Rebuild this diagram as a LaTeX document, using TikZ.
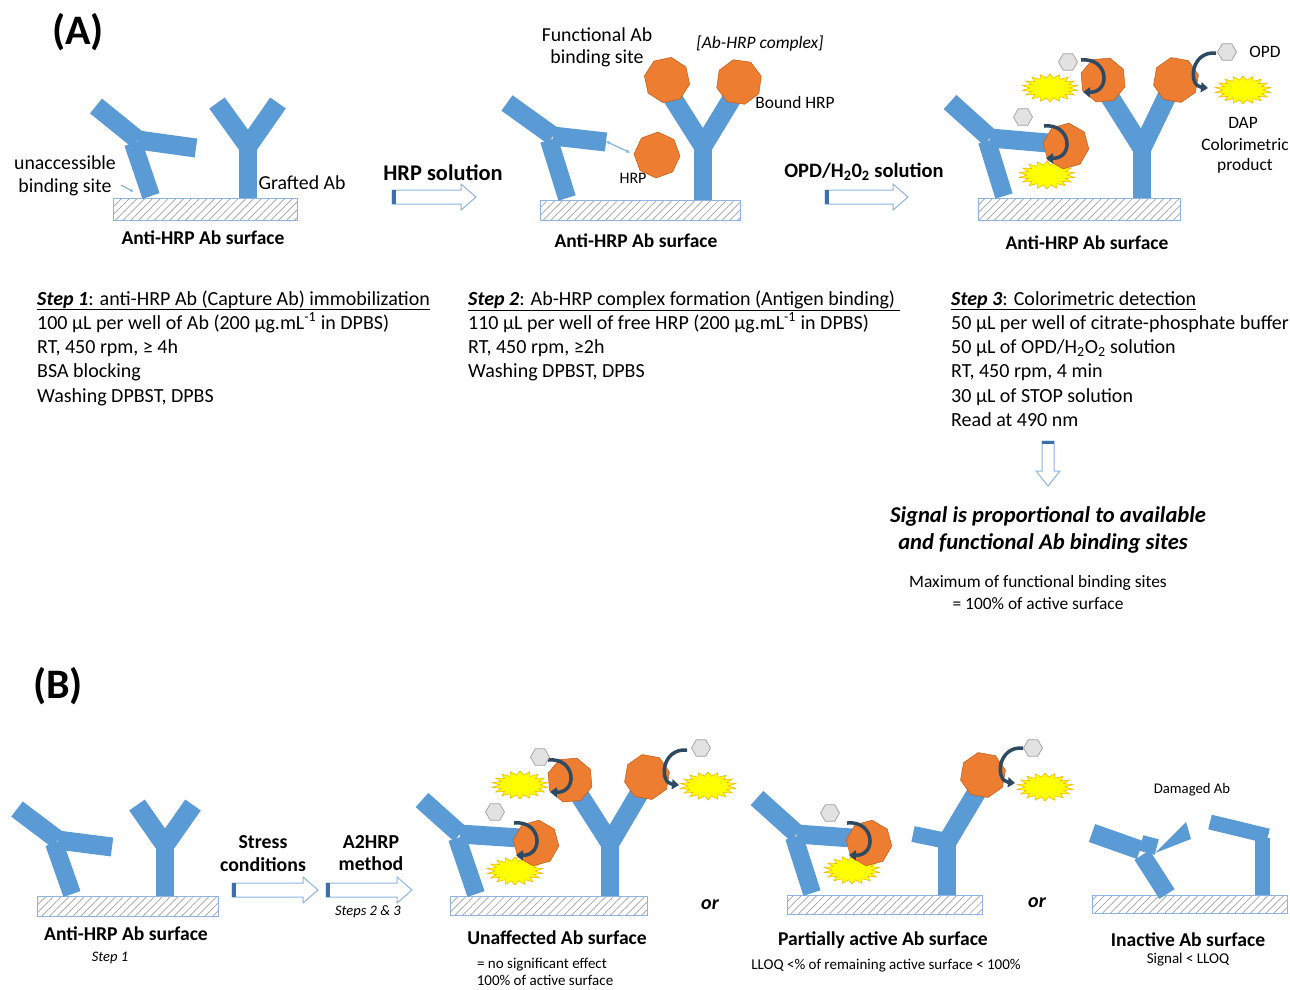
\documentclass[tikz,border=0pt]{standalone}
\usepackage{fontspec}
\setmainfont{Carlito}
\usetikzlibrary{shapes.geometric,arrows.meta,patterns.meta}
\definecolor{abblue}{HTML}{5B9BD5}
\definecolor{hrp}{HTML}{ED7D31}
\definecolor{hrpedge}{HTML}{C55A11}
\definecolor{dap}{HTML}{FFFF00}
\definecolor{dapedge}{HTML}{F5B800}
\definecolor{opd}{HTML}{E2E2E2}
\definecolor{catcol}{HTML}{2E4A62}
\definecolor{surfedge}{HTML}{8EB4E3}
\definecolor{baredge}{HTML}{8EB4E3}
\definecolor{barend}{HTML}{3F6FA8}
\newcommand\fsz[1]{\fontsize{#1}{#1}\selectfont}
% curved conversion arrow on the left side of an enzyme
\newcommand\turnL[2]{\draw[catarrow, shift={(#1,#2)}] (-22,-20) .. controls (6,-23) and (8,13) .. (-20,12);}
% curved conversion arrow on the right side of an enzyme
\newcommand\turnR[2]{\draw[catarrow, shift={(#1,#2)}] (40,-27) .. controls (14,-29) and (12,6) .. (32,8);}
% hollow block arrow pointing right: x0, x1, y
\newcommand\blockR[3]{%
  \filldraw[blockarrow] (#1,#3-7) -- (#2-15,#3-7) -- (#2-15,#3-13) -- (#2,#3) -- (#2-15,#3+13) -- (#2-15,#3+7) -- (#1,#3+7) -- cycle;
  \fill[barend] (#1,#3-7) rectangle (#1+4,#3+7);}
\begin{document}
\begin{tikzpicture}[x=1pt,y=-1pt,
  arm/.style={draw=abblue, line width=19pt},
  hrpnode/.style={regular polygon, regular polygon sides=8, minimum size=46pt, inner sep=0, fill=hrp, draw=hrpedge, line width=0.5pt},
  dapnode/.style={star, star points=18, star point ratio=1.4, minimum size=28pt, inner sep=0, fill=dap, draw=dapedge, line width=0.6pt, xscale=2},
  opdnode/.style={regular polygon, regular polygon sides=6, minimum size=19pt, inner sep=0, fill=opd, draw=gray!75, line width=0.7pt},
  catarrow/.style={draw=catcol, line width=3.5pt, -{Triangle[length=7pt,width=10pt]}},
  surface/.style={draw=surfedge, line width=0.9pt, pattern={Lines[angle=45,distance=5.5pt,line width=0.7pt]}, pattern color=gray!75},
  blockarrow/.style={draw=baredge, fill=white, line width=1pt},
  body/.style={inner sep=0, anchor=base west, font=\fsz{20}},
  lbl/.style={inner sep=0, font=\fsz{17.4}},
  mid/.style={inner sep=0, font=\fsz{19.8}},
  surflbl/.style={inner sep=0, font=\fsz{19.5}\bfseries},
  bsurf/.style={inner sep=0, font=\fsz{19.6}\bfseries},
  small/.style={inner sep=0, font=\fsz{15}},
  stressl/.style={inner sep=0, font=\fsz{19.8}\bfseries},
]
\useasboundingbox (0,0) rectangle (1290,989);

% ---------------- panel A ----------------
\node[inner sep=0, font=\fsz{42}\bfseries] (labA) at (78,32) {(A)};

% step 1: bare antibody surface
\draw[surface] (113,198) rectangle (297,220);
\draw[arm] (96,106) -- (138,140);
\draw[arm] (138,140) -- (196,148);
\draw[arm, line width=18pt] (133,143) -- (151,196);
\draw[arm, line width=18pt] (248,198) -- (248,143);
\draw[arm] (248,146) -- (217,103);
\draw[arm] (248,146) -- (278,103);
\node[mid] (unacc1) at (65,163) {unaccessible};
\node[mid] (unacc2) at (65,187) {binding site};
\coordinate (unaccA) at (121,185);
\coordinate (unaccB) at (134,192);
\draw[-{Latex[length=4pt]}, abblue!85, line width=1pt] (unaccA) -- (unaccB);
\node[mid] (grafted) at (302,183) {Grafted Ab};
\node[surflbl] (surf1) at (203,238) {Anti-HRP Ab surface};

% arrow 1
\node[inner sep=0, font=\fsz{22.4}\bfseries] (hrpsol) at (443,173) {HRP solution};
\blockR{392}{476}{197}

% step 2: HRP capture
\draw[surface] (540,200) rectangle (740,220);
\draw[arm] (507,103) -- (553,136);
\draw[arm] (553,136) -- (606,142);
\draw[arm, line width=18pt] (549,140) -- (567,198);
\draw[arm, line width=18pt] (703,200) -- (703,143);
\draw[arm] (703,146) -- (672,97);
\draw[arm] (703,146) -- (734,95);
\node[hrpnode, rotate=12] (hrpA) at (667,80) {};
\node[hrpnode, rotate=-8] (hrpB) at (739,82) {};
\node[hrpnode, rotate=20] (hrpFree) at (657,155) {};
\coordinate (bindA) at (605,141);
\coordinate (bindB) at (631,153);
\draw[{Latex[length=5pt]}-{Latex[length=5pt]}, abblue!70, line width=1.3pt] (bindA) -- (bindB);
\node[mid] (func1) at (597,35) {Functional Ab};
\node[mid] (func2) at (597,58) {binding site};
\node[lbl, font=\fsz{17.5}\itshape] (complex) at (760,44) {[Ab-HRP complex]};
\node[lbl] (bound) at (795,103) {Bound HRP};
\node[lbl, font=\fsz{16}] (hrplbl) at (633,178) {HRP};
\node[surflbl] (surf2) at (636,241) {Anti-HRP Ab surface};

% arrow 2
\node[inner sep=0, font=\fsz{20.5}\bfseries] (opdsol) at (864,172) {OPD/H\textsubscript{2}0\textsubscript{2} solution};
\blockR{825}{908}{197}

% step 3: colorimetric reaction
\draw[surface] (978,198) rectangle (1180,220);
\draw[arm] (950,102) -- (990,138);
\draw[arm] (990,138) -- (1048,143);
\draw[arm, line width=18pt] (987,141) -- (1004,196);
\draw[arm, line width=18pt] (1142,198) -- (1142,145);
\draw[arm] (1142,148) -- (1108,94);
\draw[arm] (1142,148) -- (1168,94);
\node[dapnode] (dap1) at (1047,175) {};
\node[dapnode] (dap2) at (1050,88) {};
\node[dapnode] (dap3) at (1243,90) {};
\node[hrpnode, rotate=15] (hrpC) at (1066,146) {};
\node[hrpnode, rotate=5] (hrpD) at (1103,80) {};
\node[hrpnode, rotate=-10] (hrpE) at (1176,80) {};
\turnL{1066}{146}
\turnL{1103}{80}
\turnR{1176}{80}
\node[opdnode] (opd1) at (1068,62) {};
\node[opdnode] (opd2) at (1023,117) {};
\node[opdnode] (opd3) at (1227,52) {};
\node[lbl] (opdlbl) at (1265,52) {OPD};
\node[lbl] (daplbl1) at (1243,123) {DAP};
\node[lbl] (daplbl2) at (1245,145) {Colorimetric};
\node[lbl] (daplbl3) at (1245,166) {product};
\node[surflbl] (surf3) at (1087,243) {Anti-HRP Ab surface};

% protocol text
\node[body] (s1a) at (37,305) {\underline{\textbf{\textit{Step 1}}: anti-HRP Ab (Capture Ab) immobilization}};
\node[body] (s1b) at (37,329.3) {100 µL per well of Ab (200 µg.mL\textsuperscript{-1} in DPBS)};
\node[body] (s1c) at (37,353.6) {RT, 450 rpm, ≥ 4h};
\node[body] (s1d) at (37,377.9) {BSA blocking};
\node[body] (s1e) at (37,402.2) {Washing DPBST, DPBS};

\node[body] (s2a) at (468,305) {\underline{\textbf{\textit{Step 2}}: Ab-HRP complex formation (Antigen binding)\ }};
\node[body] (s2b) at (468,329.3) {110 µL per well of free HRP (200 µg.mL\textsuperscript{-1} in DPBS)};
\node[body] (s2c) at (468,353.6) {RT, 450 rpm, ≥2h};
\node[body] (s2d) at (468,377.9) {Washing DPBST, DPBS};

\node[body] (s3a) at (951,305) {\underline{\textbf{\textit{Step 3}}: Colorimetric detection}};
\node[body] (s3b) at (951,329.3) {50 µL per well of citrate-phosphate buffer};
\node[body] (s3c) at (951,353.6) {50 µL of OPD/H\textsubscript{2}O\textsubscript{2} solution};
\node[body] (s3d) at (951,377.9) {RT, 450 rpm, 4 min};
\node[body] (s3e) at (951,402.2) {30 µL of STOP solution};
\node[body] (s3f) at (951,426.5) {Read at 490 nm};

% downward arrow to the conclusion
\filldraw[blockarrow] (1042,441) -- (1054,441) -- (1054,471) -- (1060,471) -- (1048,486) -- (1036,471) -- (1042,471) -- cycle;
\fill[barend] (1042,441) rectangle (1054,444);
\node[inner sep=0, font=\fsz{22.6}\bfseries\itshape] (sig1) at (1048,516) {Signal is proportional to available};
\node[inner sep=0, font=\fsz{22.6}\bfseries\itshape] (sig2) at (1043,543) {and functional Ab binding sites};
\node[lbl] (max1) at (1038,583) {Maximum of functional binding sites};
\node[lbl] (max2) at (1038,604) {= 100\% of active surface};

% ---------------- panel B ----------------
\node[inner sep=0, font=\fsz{42}\bfseries] (labB) at (58,686) {(B)};

% starting surface
\draw[surface] (37,896) rectangle (218,916);
\draw[arm] (17,809) -- (58,840);
\draw[arm] (58,840) -- (112,847);
\draw[arm, line width=18pt] (54,843) -- (72,894);
\draw[arm, line width=18pt] (165,896) -- (165,842);
\draw[arm] (165,845) -- (137,805);
\draw[arm] (165,845) -- (193,805);
\node[bsurf] (surfB0) at (126,934) {Anti-HRP Ab surface};
\node[small, font=\fsz{14.5}\itshape] (stepB1) at (110,958) {Step 1};

\node[stressl] (stress1) at (263,842) {Stress};
\node[stressl] (stress2) at (263,865) {conditions};
\blockR{232}{318}{890}
\node[stressl] (a2hrp1) at (371,842) {A2HRP};
\node[stressl] (a2hrp2) at (371,864) {method};
\blockR{326}{412}{890}
\node[small, font=\fsz{14.5}\itshape] (steps23) at (368,912) {Steps 2 \& 3};

% unaffected surface
\draw[surface] (450,896) rectangle (647,915);
\draw[arm] (422,800) -- (460,834);
\draw[arm] (460,834) -- (520,838);
\draw[arm, line width=18pt] (457,838) -- (476,894);
\draw[arm, line width=18pt] (610,896) -- (610,840);
\draw[arm] (610,843) -- (578,793);
\draw[arm] (610,843) -- (640,792);
\node[dapnode] (dapB1) at (520,785) {};
\node[dapnode] (dapB2) at (708,786) {};
\node[dapnode] (dapB3) at (515,871) {};
\node[hrpnode, rotate=15] (hrpB1) at (536,843) {};
\node[hrpnode, rotate=5] (hrpB2) at (570,780) {};
\node[hrpnode, rotate=-10] (hrpB3) at (647,777) {};
\turnL{536}{843}
\turnL{570}{780}
\turnR{647}{777}
\node[opdnode] (opdB1) at (540,757) {};
\node[opdnode] (opdB2) at (701,748) {};
\node[opdnode] (opdB3) at (495,812) {};
\node[inner sep=0, font=\fsz{20}\bfseries\itshape] (or1) at (710,905) {or};
\node[bsurf] (surfB1) at (557,938) {Unaffected Ab surface};
\node[small] (eff1) at (542,965) {= no significant effect};
\node[small] (eff2) at (545,980) {100\% of active surface};

% partially active surface
\draw[surface] (787,895) rectangle (982,914);
\draw[arm] (757,798) -- (797,834);
\draw[arm] (797,834) -- (852,838);
\draw[arm, line width=18pt] (794,837) -- (812,893);
\draw[arm, line width=18pt] (947,895) -- (947,838);
\draw[arm, line width=16pt] (947,841) -- (913,834);
\draw[arm] (947,842) -- (981,785);
\node[dapnode] (dapC1) at (852,870) {};
\node[dapnode] (dapC2) at (1045,787) {};
\node[hrpnode, rotate=15] (hrpC1) at (869,843) {};
\node[hrpnode, rotate=-10] (hrpC2) at (983,775) {};
\turnL{869}{843}
\turnR{983}{775}
\node[opdnode] (opdC1) at (830,813) {};
\node[opdnode] (opdC2) at (1033,748) {};
\node[inner sep=0, font=\fsz{20}\bfseries\itshape] (or2) at (1037,903) {or};
\node[bsurf] (surfB2) at (883,940) {Partially active Ab surface};
\node[small] (lloq) at (886,966) {LLOQ <\% of remaining active surface < 100\%};

% inactive surface
\draw[surface] (1092,895) rectangle (1287,913);
\draw[arm] (1092,833) -- (1140,850);
\draw[arm, line width=18pt] (1142,855) -- (1167,894);
\fill[abblue, rotate around={-15:(1149,845)}] (1141,837) rectangle (1157,853);
\fill[abblue] (1155,853) -- (1186,822) -- (1191,839) -- cycle;
\draw[arm, line width=15pt] (1262,895) -- (1262,838);
\draw[arm, line width=15pt] (1210,822) -- (1268,836);
\node[small, font=\fsz{14.7}] (damaged) at (1192,790) {Damaged Ab};
\node[bsurf] (surfB3) at (1188,940) {Inactive Ab surface};
\node[small] (siglloq) at (1188,960) {Signal < LLOQ};
\end{tikzpicture}
\end{document}
